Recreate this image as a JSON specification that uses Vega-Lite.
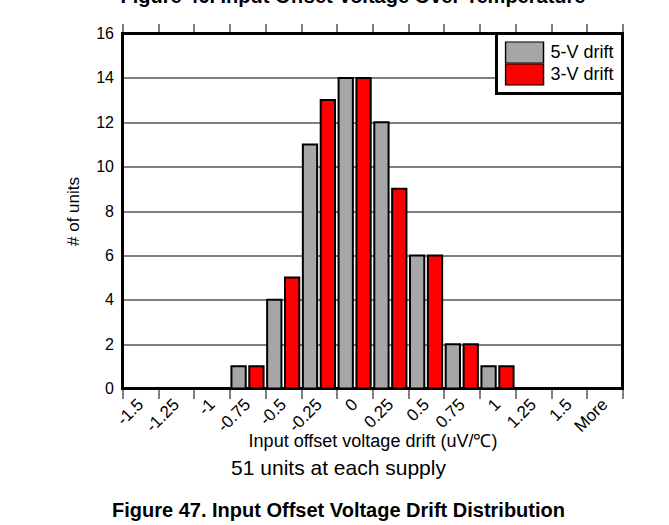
{
  "$schema": "https://vega.github.io/schema/vega-lite/v6.json",
  "width": 500,
  "height": 355,
  "autosize": "none",
  "padding": {"left": 122.5, "top": 33.5, "right": 46.5, "bottom": 136.5},
  "background": "white",
  "title": {
    "text": "51 units at each supply",
    "subtitle": "Figure 47. Input Offset Voltage Drift Distribution",
    "orient": "bottom",
    "anchor": "middle",
    "frame": "group",
    "dx": -34,
    "offset": 8,
    "font": "Liberation Sans",
    "fontSize": 21,
    "fontWeight": "normal",
    "color": "black",
    "subtitleFont": "Liberation Sans",
    "subtitleFontSize": 20,
    "subtitleFontWeight": "bold",
    "subtitleColor": "black",
    "subtitlePadding": 22
  },
  "datasets": {
    "drift": [
      {"bin": "-1.5", "supply": "5-V drift", "count": 0},
      {"bin": "-1.5", "supply": "3-V drift", "count": 0},
      {"bin": "-1.25", "supply": "5-V drift", "count": 0},
      {"bin": "-1.25", "supply": "3-V drift", "count": 0},
      {"bin": "-1", "supply": "5-V drift", "count": 0},
      {"bin": "-1", "supply": "3-V drift", "count": 0},
      {"bin": "-0.75", "supply": "5-V drift", "count": 1},
      {"bin": "-0.75", "supply": "3-V drift", "count": 1},
      {"bin": "-0.5", "supply": "5-V drift", "count": 4},
      {"bin": "-0.5", "supply": "3-V drift", "count": 5},
      {"bin": "-0.25", "supply": "5-V drift", "count": 11},
      {"bin": "-0.25", "supply": "3-V drift", "count": 13},
      {"bin": "0", "supply": "5-V drift", "count": 14},
      {"bin": "0", "supply": "3-V drift", "count": 14},
      {"bin": "0.25", "supply": "5-V drift", "count": 12},
      {"bin": "0.25", "supply": "3-V drift", "count": 9},
      {"bin": "0.5", "supply": "5-V drift", "count": 6},
      {"bin": "0.5", "supply": "3-V drift", "count": 6},
      {"bin": "0.75", "supply": "5-V drift", "count": 2},
      {"bin": "0.75", "supply": "3-V drift", "count": 2},
      {"bin": "1", "supply": "5-V drift", "count": 1},
      {"bin": "1", "supply": "3-V drift", "count": 1},
      {"bin": "1.25", "supply": "5-V drift", "count": 0},
      {"bin": "1.25", "supply": "3-V drift", "count": 0},
      {"bin": "1.5", "supply": "5-V drift", "count": 0},
      {"bin": "1.5", "supply": "3-V drift", "count": 0},
      {"bin": "More", "supply": "5-V drift", "count": 0},
      {"bin": "More", "supply": "3-V drift", "count": 0}
    ],
    "header": [
      {"caption": "Figure 46. Input Offset Voltage Over Temperature"}
    ]
  },
  "layer": [
    {
      "data": {"name": "drift"},
      "mark": {"type": "bar", "stroke": "black", "strokeWidth": 2, "opacity": 1},
      "encoding": {
        "x": {
          "field": "bin",
          "type": "ordinal",
          "scale": {
            "domain": ["-1.5", "-1.25", "-1", "-0.75", "-0.5", "-0.25", "0", "0.25", "0.5", "0.75", "1", "1.25", "1.5", "More"],
            "paddingInner": 0,
            "paddingOuter": 0
          },
          "axis": {
            "orient": "bottom",
            "title": "Input offset voltage drift (uV/℃)",
            "labelAngle": -45,
            "labelAlign": "right",
            "labelBaseline": "middle",
            "labelFontSize": 17,
            "labelPadding": 3,
            "tickBand": "extent",
            "tickSize": 10,
            "domain": false,
            "grid": false,
            "titleFontSize": 18,
            "titleBaseline": "alphabetic",
            "titleY": 57.5
          }
        },
        "xOffset": {
          "field": "supply",
          "type": "nominal",
          "sort": ["5-V drift", "3-V drift"],
          "scale": {"paddingInner": 0.2, "paddingOuter": 0.1}
        },
        "y": {
          "field": "count",
          "type": "quantitative",
          "title": "# of units",
          "scale": {"domain": [0, 16], "nice": false, "zero": true}
        },
        "color": {
          "field": "supply",
          "type": "nominal",
          "scale": {"domain": ["5-V drift", "3-V drift"], "range": ["#a6a6a6", "#ff0000"]},
          "legend": {
            "title": null,
            "orient": "top-right",
            "offset": 0,
            "strokeColor": "black",
            "fillColor": "white",
            "padding": 8,
            "symbolType": "M-1,-0.57H1V0.57H-1Z",
            "symbolSize": 1444,
            "symbolStrokeColor": "black",
            "symbolStrokeWidth": 1.5,
            "symbolOpacity": 1,
            "labelFontSize": 18,
            "labelOffset": 6,
            "rowPadding": 0,
            "clipHeight": 22,
            "encode": {"legend": {"update": {"strokeWidth": {"value": 3}}}}
          }
        }
      }
    },
    {
      "data": {"name": "header"},
      "mark": {"type": "text", "align": "left", "baseline": "alphabetic", "fontSize": 20, "fontWeight": "bold", "color": "black", "dx": -2},
      "encoding": {
        "x": {
          "datum": "-1.5",
          "type": "ordinal",
          "bandPosition": 0,
          "axis": {
            "orient": "top",
            "title": null,
            "labels": false,
            "tickBand": "extent",
            "tickSize": 10,
            "domain": false,
            "grid": false
          }
        },
        "y": {"datum": 17.39, "type": "quantitative", "title": "# of units"},
        "text": {"field": "caption", "type": "nominal"}
      }
    }
  ],
  "config": {
    "font": "Liberation Sans",
    "view": {"stroke": "black", "strokeWidth": 3},
    "axis": {
      "labelColor": "black",
      "titleColor": "black",
      "tickColor": "black",
      "titleFontWeight": "normal",
      "labelFont": "Liberation Sans",
      "titleFont": "Liberation Sans"
    },
    "axisY": {
      "values": [0, 2, 4, 6, 8, 10, 12, 14, 16],
      "grid": true,
      "gridColor": "black",
      "gridOpacity": 1,
      "gridWidth": 1,
      "ticks": false,
      "domain": false,
      "labelFontSize": 16,
      "labelPadding": 9,
      "titleFontSize": 17,
      "titlePadding": 13
    },
    "legend": {
      "labelFont": "Liberation Sans",
      "labelColor": "black"
    }
  }
}
